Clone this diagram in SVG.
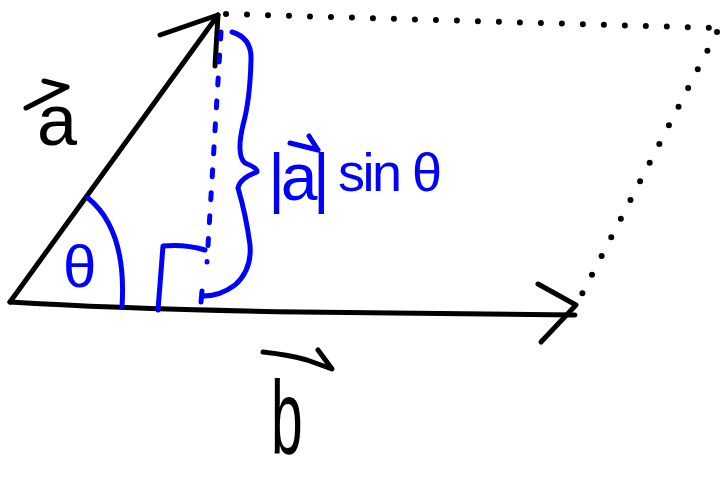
<svg xmlns="http://www.w3.org/2000/svg" width="720" height="477" viewBox="0 0 720 477">
<style>
.k{fill:none;stroke:#000;stroke-width:5;stroke-linecap:round;stroke-linejoin:round}
.bl{fill:none;stroke:#0000ff;stroke-width:5;stroke-linecap:round;stroke-linejoin:round}
.dot{fill:none;stroke:#000;stroke-width:6;stroke-linecap:round;stroke-dasharray:0 21}
.bdot{fill:none;stroke:#0000ff;stroke-width:5;stroke-linecap:round;stroke-dasharray:7 16}
.tk{font-family:"Liberation Sans",Arial,sans-serif;fill:#000}
.tb{font-family:"Liberation Sans",Arial,sans-serif;fill:#0000ff}
</style>
<rect width="720" height="477" fill="#fff"/>
<g id="connectors">
<g id="vector-a">
<path class="k" d="M10,302 L218,15"/>
<path class="k" d="M160,35 L218,15 L215,66"/>
</g>
<g id="vector-b">
<path class="k" d="M10,302 Q120,309 300,312 L575,315"/>
<path class="k" d="M538,284 L576,305 L541,342"/>
</g>
<path id="top-dotted" class="dot" d="M226,14 L716,28"/>
<path id="right-dotted" class="dot" d="M717,32 L580,298"/>
<path id="height-dotted" class="bdot" d="M221,32 L207,262"/>
</g>
<g id="angle-theta">
<path class="bl" d="M88,198 Q127,230 122,307"/>
<text class="tb" x="63" y="287" font-size="60">θ</text>
</g>
<g id="right-angle">
<path class="bl" d="M158,310 L163,246 Q185,244 205,250"/>
</g>
<g id="brace">
<path class="bl" d="M232,32 Q252,38 251,60 Q250,100 243,125 Q236,155 245,163 Q258,168 257,172 Q240,178 238,188 Q246,215 250,245 Q252,270 235,285 Q220,296 204,296 M202,291 L201,302"/>
</g>
<g id="label-a">
<path class="k" d="M44,81 L67,87 L26,108"/>
<text class="tk" x="37" y="145" font-size="72">a</text>
</g>
<g id="label-b">
<path class="k" d="M263,352 Q290,355 307,360 L332,369 L318,350"/>
<text class="tk" transform="translate(271,453) scale(0.6,1.1)" font-size="95">b</text>
</g>
<g id="label-height">
<text class="tb" x="268" y="200" font-size="66" textLength="62" lengthAdjust="spacing">|a|</text>
<text class="tb" x="338" y="191" font-size="54" textLength="104" lengthAdjust="spacing">sin θ</text>
<path class="bl" d="M290,143 L318,150 M309,136 L318,150"/>
</g>
</svg>
